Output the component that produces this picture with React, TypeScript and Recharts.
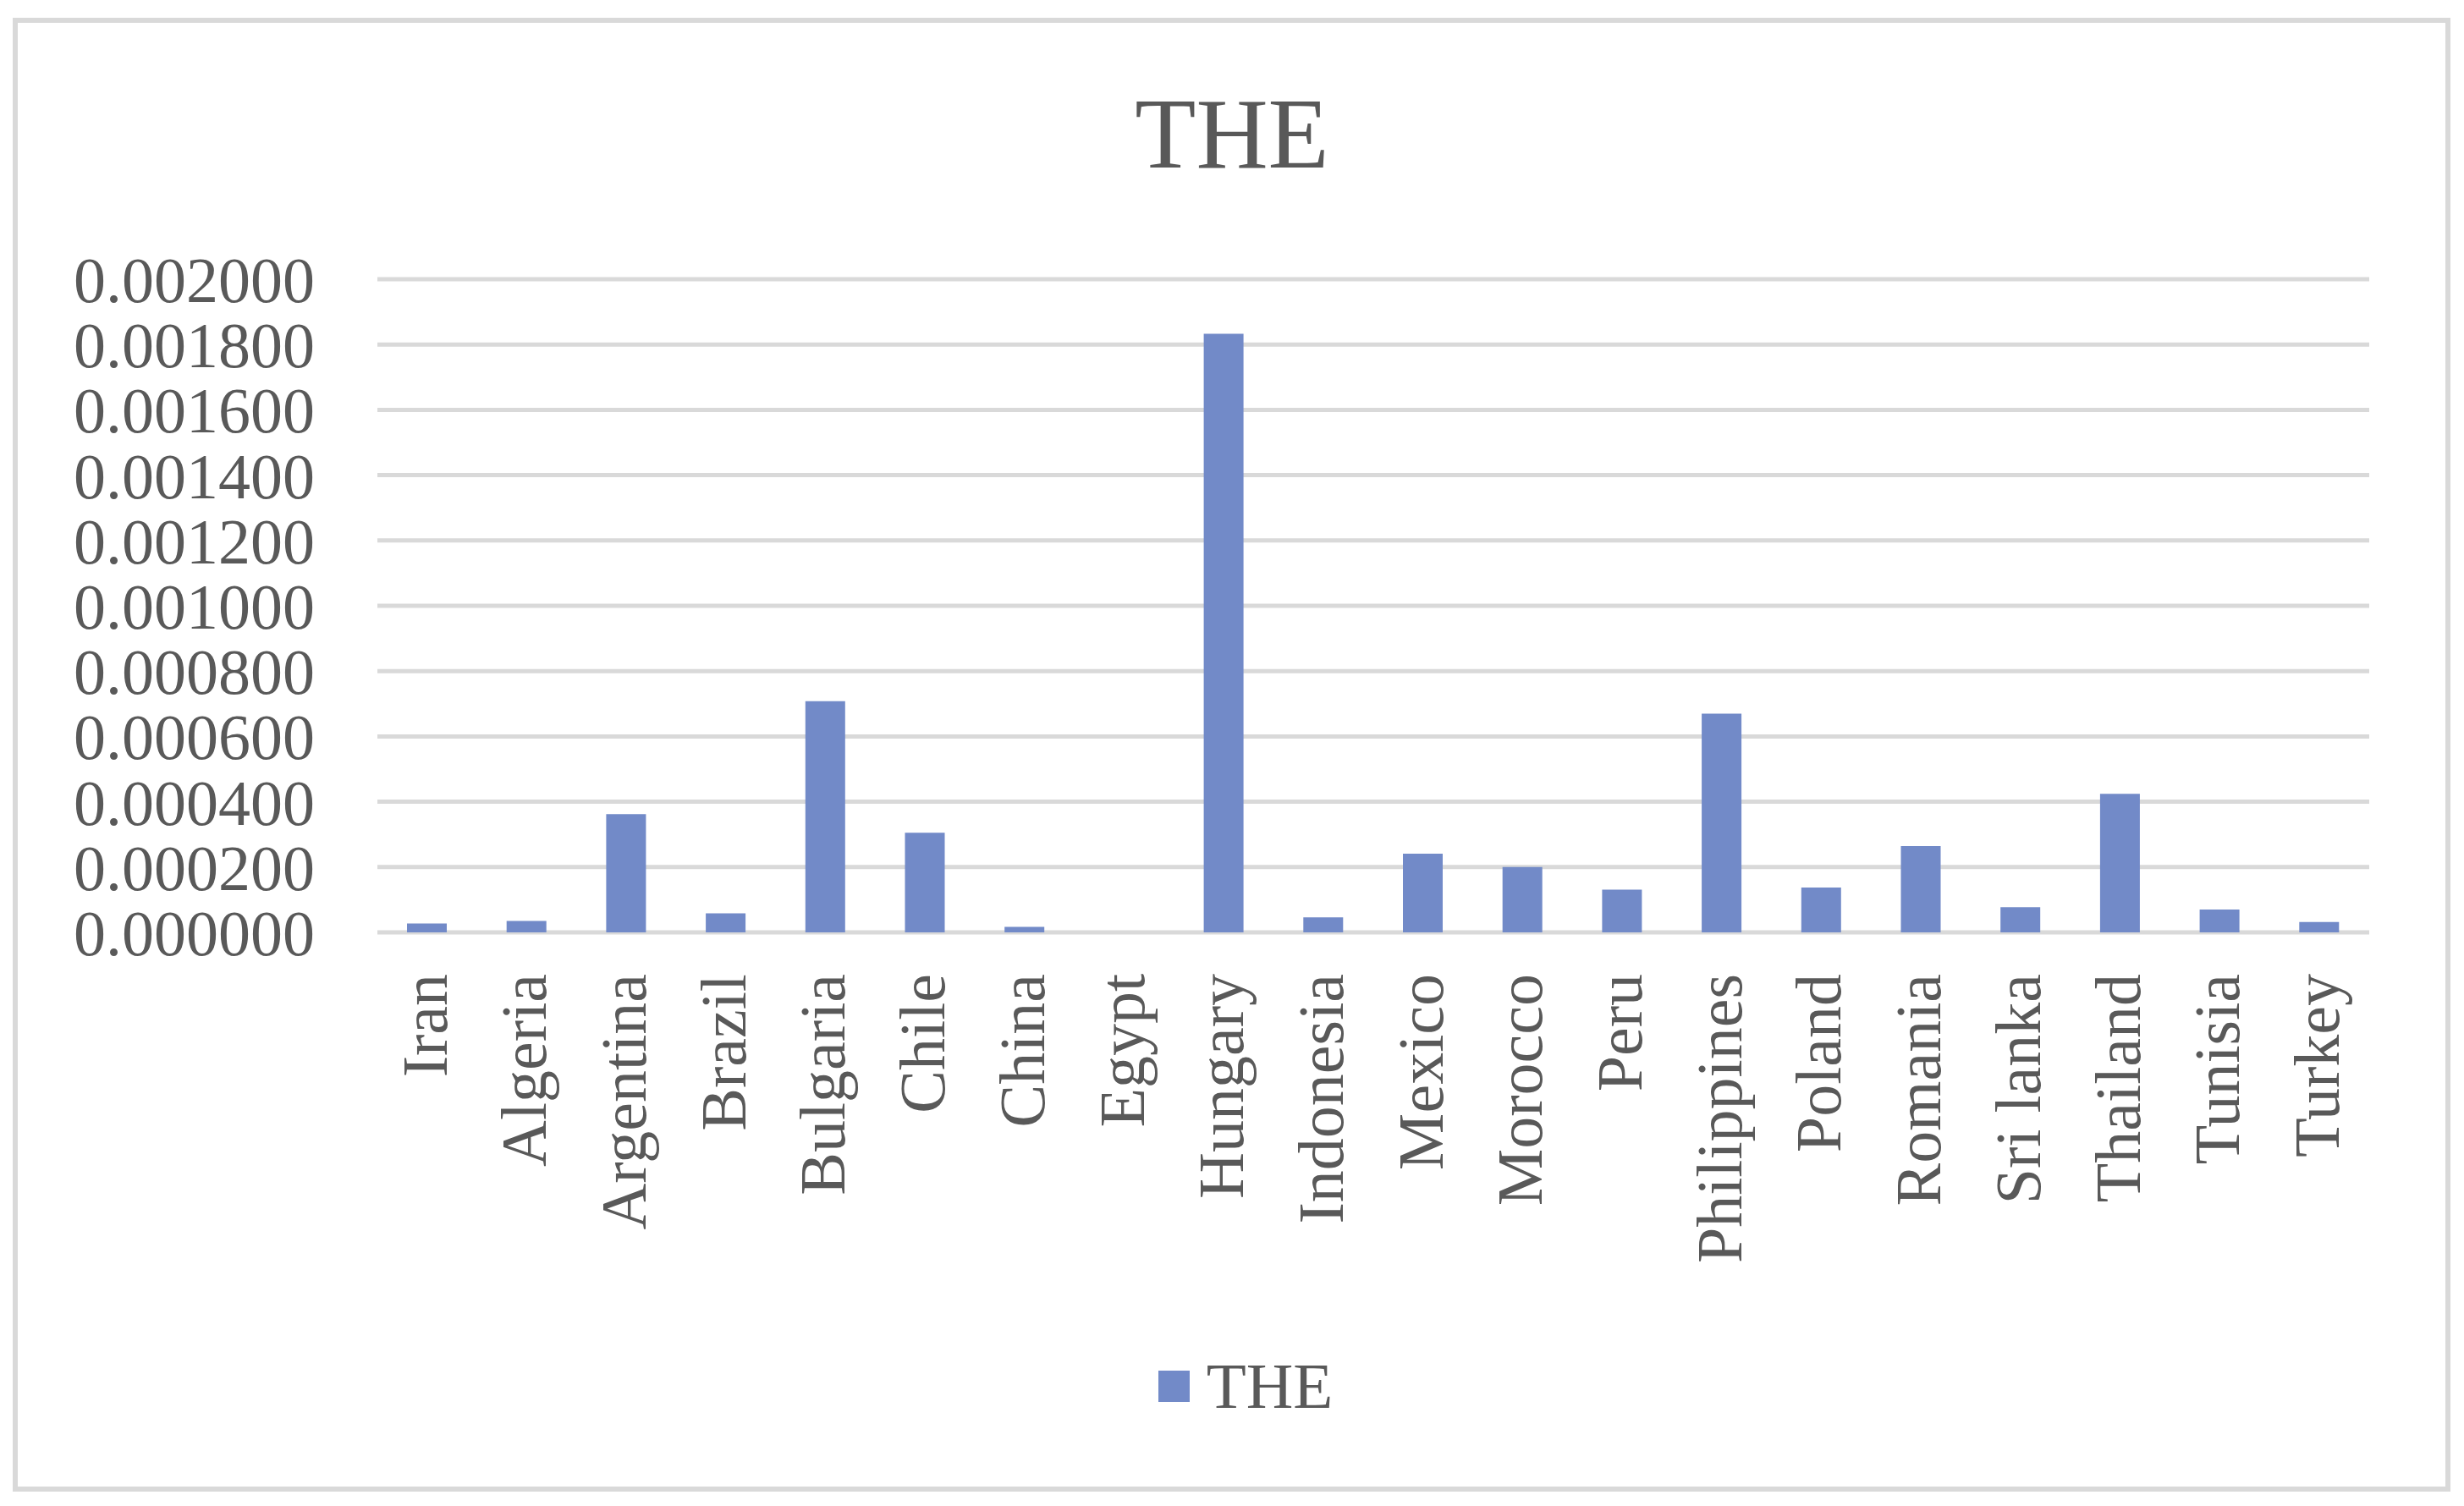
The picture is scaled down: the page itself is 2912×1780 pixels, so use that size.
import React from "react";
import {
  Bar,
  BarChart,
  CartesianGrid,
  Legend,
  XAxis,
  YAxis,
} from "recharts";

// Values
const countries = [
  "Iran",
  "Algeria",
  "Argentina",
  "Brazil",
  "Bulgaria",
  "Chile",
  "China",
  "Egypt",
  "Hungary",
  "Indonesia",
  "Mexico",
  "Morocco",
  "Peru",
  "Philippines",
  "Poland",
  "Romania",
  "Sri lanka",
  "Thailand",
  "Tunisia",
  "Turkey",
];

const theValues = [
  0.000027, 0.000035, 0.000362, 0.000058, 0.000708, 0.000305, 0.000017, 0,
  0.001833, 0.000046, 0.000241, 0.0002, 0.000131, 0.00067, 0.000137, 0.000264,
  0.000077, 0.000424, 0.00007, 0.000032,
];

const yTicks = [
  0, 0.0002, 0.0004, 0.0006, 0.0008, 0.001, 0.0012, 0.0014, 0.0016, 0.0018,
  0.002,
];

const data = countries.map((country, i) => ({
  country,
  THE: theValues[i],
}));

const FONT = '"Liberation Serif", "Times New Roman", serif';
const TEXT_COLOR = "#595959";
const BAR_COLOR = "#728AC8";
const GRID_COLOR = "#D9D9D9";

const CountryTick = (props: any) => {
  const { x, y, payload } = props;
  return (
    <text
      x={x}
      y={y}
      dy="0.3em"
      transform={`rotate(-90, ${x}, ${y})`}
      textAnchor="end"
      fill={TEXT_COLOR}
      fontFamily={FONT}
      fontSize={76}
    >
      {payload.value}
    </text>
  );
};

const LegendContent = () => (
  <div
    style={{
      display: "flex",
      justifyContent: "center",
      alignItems: "center",
      height: 100,
      paddingLeft: 32,
      fontFamily: FONT,
      fontSize: 77,
      color: TEXT_COLOR,
    }}
  >
    <span
      style={{
        display: "inline-block",
        width: 37,
        height: 37,
        background: BAR_COLOR,
        marginRight: 20,
      }}
    />
    <span>THE</span>
  </div>
);

export default function App() {
  return (
    <div
      style={{
        position: "absolute",
        left: 0,
        top: 0,
        width: 2912,
        height: 1780,
        background: "#fff",
      }}
    >
      <div
        style={{
          position: "absolute",
          left: 15,
          top: 21,
          width: 2881,
          height: 1742,
          boxSizing: "border-box",
          border: `6px solid ${GRID_COLOR}`,
        }}
      />
      <div
        style={{
          position: "absolute",
          left: 0,
          top: 88,
          width: 2912,
          textAlign: "center",
          fontFamily: FONT,
          fontSize: 118,
          color: TEXT_COLOR,
          lineHeight: 1.2,
        }}
      >
        THE
      </div>
      <BarChart
        width={2912}
        height={1780}
        data={data}
        margin={{ top: 330, right: 112, left: 0, bottom: 92 }}
        style={{ position: "absolute", left: 0, top: 0 }}
      >
        <CartesianGrid
          vertical={false}
          stroke={GRID_COLOR}
          strokeWidth={5}
        />
        <XAxis
          dataKey="country"
          interval={0}
          height={486}
          tickSize={0}
          tickMargin={49}
          axisLine={false}
          tickLine={false}
          tick={<CountryTick />}
        />
        <YAxis
          width={446}
          domain={[0, 0.002]}
          ticks={yTicks}
          interval={0}
          tickFormatter={(v: number) => v.toFixed(6)}
          tickSize={0}
          tickMargin={74}
          axisLine={false}
          tickLine={false}
          tick={{ fill: TEXT_COLOR, fontFamily: FONT, fontSize: 76 }}
        />
        <Legend
          verticalAlign="bottom"
          height={100}
          wrapperStyle={{ left: 0, width: 2912 }}
          content={<LegendContent />}
        />
        <Bar
          dataKey="THE"
          fill={BAR_COLOR}
          barSize={47}
          isAnimationActive={false}
        />
      </BarChart>
    </div>
  );
}
